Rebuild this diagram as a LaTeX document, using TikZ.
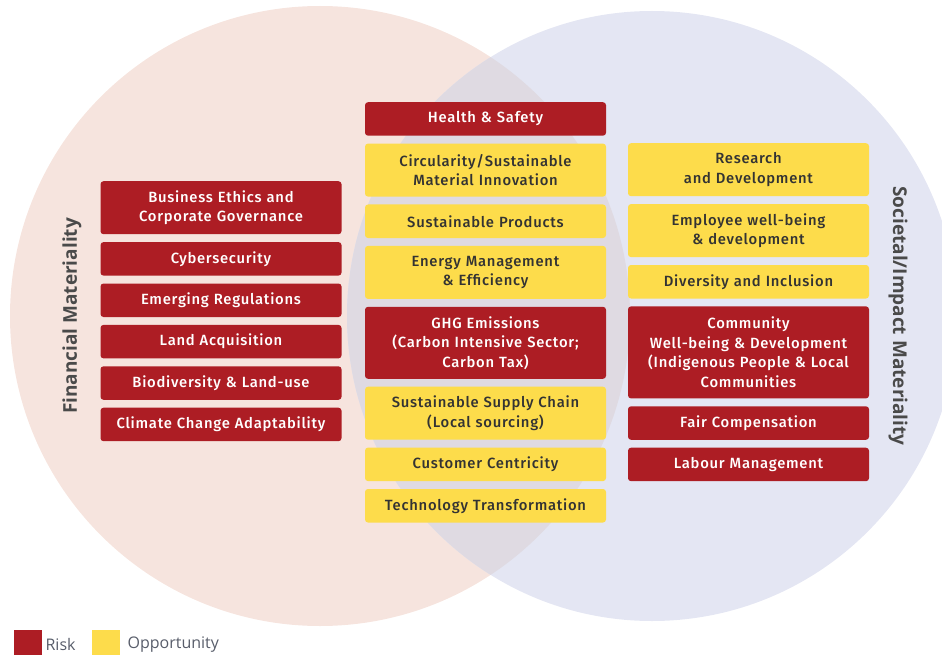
\documentclass[tikz,border=0pt]{standalone}
\usepackage{fontspec}
\setmainfont{Open Sans}
\newfontfamily\boxfont{Fira Sans}[UprightFont = {* Medium}, LetterSpace = 5]
\usetikzlibrary{positioning}
\definecolor{mred}{HTML}{AD1D24}
\definecolor{myellow}{HTML}{FDDC4B}
\definecolor{mpink}{HTML}{F6E4DE}
\definecolor{mblue}{HTML}{E4E6F3}
\definecolor{mmix}{HTML}{DFDAE2}
\definecolor{mgrey}{HTML}{4A4A4A}
\definecolor{mslate}{HTML}{585D6A}
\tikzset{item/.style = {rounded corners = 3, minimum width = 241, text width = 238, align = center, inner sep = 0, minimum height = 33.5, execute at end node = {\par\vskip -6pt}, font = \boxfont\fontsize{14.8}{19.5}\selectfont}}
\tikzset{risk/.style = {item, fill = mred, text = white}}
\tikzset{opp/.style = {item, fill = myellow, text = black!80}}
\tikzset{axislabel/.style = {font = \bfseries\fontsize{19}{21}\selectfont, text = mgrey}}
\tikzset{keybox/.style = {inner sep = 0, minimum size = 28, anchor = north west}}
\tikzset{keytext/.style = {text = mslate, inner sep = 0, font = \fontsize{16}{18}\selectfont}}

\begin{document}
\begin{tikzpicture}[x = 1pt, y = -1pt, node distance = 7.5pt]
      \useasboundingbox (0, 0) rectangle (942, 655);
      \clip (0, 0) rectangle (942, 655);
      % the two circles and their overlap
      \fill [mpink] (320, 316) circle (310);
      \fill [mblue] (652, 316) circle (305);
      \begin{scope}
        \clip (320, 316) circle (310);
        \fill [mmix] (652, 316) circle (305);
      \end{scope}
      \node [axislabel, rotate = 90] (fin) at (72, 316) {Financial Materiality};
      \node [axislabel, rotate = -90] (soc) at (898, 316) {Societal/Impact Materiality};
      % left column
      \node [risk, anchor = north, minimum height = 53] (ethics) at (221, 181) {Business Ethics and\\Corporate Governance};
      \node [risk, below = of ethics] (cyber) {Cybersecurity};
      \node [risk, below = of cyber] (regul) {Emerging Regulations};
      \node [risk, below = of regul] (land) {Land Acquisition};
      \node [risk, below = of land] (biodiv) {Biodiversity \& Land-use};
      \node [risk, below = of biodiv] (climate) {Climate Change Adaptability};
      % middle column
      \node [risk, anchor = north] (health) at (485.5, 102) {Health \& Safety};
      \node [opp, below = of health, minimum height = 53] (circ) {Circularity/Sustainable\\Material Innovation};
      \node [opp, below = of circ] (products) {Sustainable Products};
      \node [opp, below = of products, minimum height = 53] (energy) {Energy Management\\\& Efficiency};
      \node [risk, below = of energy, minimum height = 72] (ghg) {GHG Emissions\\(Carbon Intensive Sector;\\Carbon Tax)};
      \node [opp, below = of ghg, minimum height = 53] (supply) {Sustainable Supply Chain\\(Local sourcing)};
      \node [opp, below = of supply] (customer) {Customer Centricity};
      \node [opp, below = of customer] (tech) {Technology Transformation};
      % right column
      \node [opp, anchor = north, minimum height = 53] (research) at (748.5, 143) {Research\\and Development};
      \node [opp, below = of research, minimum height = 53] (employee) {Employee well-being\\\& development};
      \node [opp, below = of employee] (diversity) {Diversity and Inclusion};
      \node [risk, below = of diversity, minimum height = 92] (community) {Community\\Well-being \& Development\\(Indigenous People \& Local\\Communities};
      \node [risk, below = of community] (fair) {Fair Compensation};
      \node [risk, below = of fair] (labour) {Labour Management};
      % legend
      \node [keybox, fill = mred] (riskkey) at (14, 630) {};
      \node [keytext, right = 3pt of riskkey] (risktext) {Risk};
      \node [keybox, fill = myellow] (oppkey) at (92, 630) {};
      \node [keytext, right = 7pt of oppkey] (opptext) {Opportunity};
    \end{tikzpicture}
\end{document}
